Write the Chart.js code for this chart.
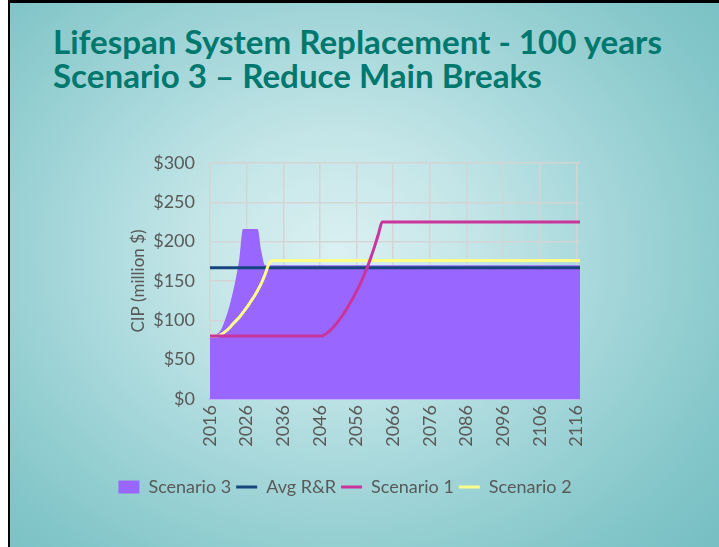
<!DOCTYPE html>
<html>
<head>
<meta charset="utf-8">
<script src="https://cdn.jsdelivr.net/npm/chart.js@4.4.1/dist/chart.umd.min.js"></script>
<style>
  html, body { margin: 0; padding: 0; width: 719px; height: 547px; overflow: hidden; background: #fff; }
  #slide {
    position: absolute; left: 8px; top: 0; width: 711px; height: 547px; box-sizing: border-box;
    border-left: 2px solid #000; border-top: 3px solid #000;
    background: radial-gradient(ellipse 72% 78% at 46% 46%, #dbf0f2 0%, #c3e5e7 28%, #a3d6d9 55%, #85c7ca 82%, #77bfc3 100%);
  }
  h1 {
    position: absolute; left: 53px; top: 24px; margin: 0;
    font-family: Lato, "Open Sans", sans-serif; font-weight: 700; font-size: 30px; line-height: 34px;
    color: #00786e; white-space: nowrap;
  }
  #chartBox { position: absolute; left: 0; top: 0; width: 719px; height: 547px; }
</style>
</head>
<body>
<div id="slide"></div>
<h1 id="title">Lifespan System Replacement - 100 years<br>Scenario 3 – Reduce Main Breaks</h1>
<div id="chartBox"><canvas id="chart" width="719" height="547"></canvas></div>
<script>
// Years on the category axis, one per year; every tenth one is labelled.
const years = [];
for (let y = 2016; y <= 2117; y++) years.push(String(y));

const seriesNames = ['Scenario 3', 'Avg R&R', 'Scenario 1', 'Scenario 2'];

// CIP, million $ per year (2016 … 2117)
const scenario3 = [
  80, 81, 83, 88, 99, 113, 131, 152, 178, 216,
  216, 216, 216, 216, 188, 170, 170, 170, 170, 170,
  170, 170, 170, 170, 170, 170, 170, 170, 170, 170,
  170, 170, 170, 170, 170, 170, 170, 170, 170, 170,
  170, 170, 170, 170, 170, 170, 170, 170, 170, 170,
  170, 170, 170, 170, 170, 170, 170, 170, 170, 170,
  170, 170, 170, 170, 170, 170, 170, 170, 170, 170,
  170, 170, 170, 170, 170, 170, 170, 170, 170, 170,
  170, 170, 170, 170, 170, 170, 170, 170, 170, 170,
  170, 170, 170, 170, 170, 170, 170, 170, 170, 170,
  170, 170
];

const avgRR = [
  167, 167, 167, 167, 167, 167, 167, 167, 167, 167,
  167, 167, 167, 167, 167, 167, 167, 167, 167, 167,
  167, 167, 167, 167, 167, 167, 167, 167, 167, 167,
  167, 167, 167, 167, 167, 167, 167, 167, 167, 167,
  167, 167, 167, 167, 167, 167, 167, 167, 167, 167,
  167, 167, 167, 167, 167, 167, 167, 167, 167, 167,
  167, 167, 167, 167, 167, 167, 167, 167, 167, 167,
  167, 167, 167, 167, 167, 167, 167, 167, 167, 167,
  167, 167, 167, 167, 167, 167, 167, 167, 167, 167,
  167, 167, 167, 167, 167, 167, 167, 167, 167, 167,
  167, 167
];

const scenario1 = [
  80, 80, 80, 80, 80, 80, 80, 80, 80, 80,
  80, 80, 80, 80, 80, 80, 80, 80, 80, 80,
  80, 80, 80, 80, 80, 80, 80, 80, 80, 80,
  80, 81, 84, 88, 93, 99, 105, 112, 120, 128,
  137, 146, 157, 168, 181, 195, 210, 225, 225, 225,
  225, 225, 225, 225, 225, 225, 225, 225, 225, 225,
  225, 225, 225, 225, 225, 225, 225, 225, 225, 225,
  225, 225, 225, 225, 225, 225, 225, 225, 225, 225,
  225, 225, 225, 225, 225, 225, 225, 225, 225, 225,
  225, 225, 225, 225, 225, 225, 225, 225, 225, 225,
  225, 225
];

const scenario2 = [
  80, 80, 80, 82, 85, 89, 94, 99, 104, 110,
  116, 123, 130, 138, 147, 158, 171, 176, 176, 176,
  176, 176, 176, 176, 176, 176, 176, 176, 176, 176,
  176, 176, 176, 176, 176, 176, 176, 176, 176, 176,
  176, 176, 176, 176, 176, 176, 176, 176, 176, 176,
  176, 176, 176, 176, 176, 176, 176, 176, 176, 176,
  176, 176, 176, 176, 176, 176, 176, 176, 176, 176,
  176, 176, 176, 176, 176, 176, 176, 176, 176, 176,
  176, 176, 176, 176, 176, 176, 176, 176, 176, 176,
  176, 176, 176, 176, 176, 176, 176, 176, 176, 176,
  176, 176
];

const yTicks = [0, 50, 100, 150, 200, 250, 300];

// Fit the two-line heading to its slide width.
(function fitTitle() {
  const el = document.getElementById('title');
  const c = document.createElement('canvas').getContext('2d');
  c.font = '700 30px Lato';
  const w = c.measureText('Lifespan System Replacement - 100 years').width;
  const size = 30 * 610 / w;
  el.style.fontSize = size.toFixed(2) + 'px';
})();

const FONT = 'Lato';
const GREY = '#595959';
const GRID = 'rgba(212,212,212,0.95)';

new Chart(document.getElementById('chart'), {
  type: 'line',
  data: {
    labels: years,
    datasets: [
      { label: seriesNames[0], data: scenario3, fill: 'origin', backgroundColor: '#9966ff',
        borderColor: '#9966ff', borderWidth: 0, pointRadius: 0, order: 4, pointStyle: 'rect' },
      { label: seriesNames[1], data: avgRR, fill: false, borderColor: '#17457e', backgroundColor: '#17457e',
        borderWidth: 3, pointRadius: 0, order: 3, pointStyle: 'line' },
      { label: seriesNames[2], data: scenario1, fill: false, borderColor: '#c9359b', backgroundColor: '#c9359b',
        borderWidth: 3, pointRadius: 0, order: 1, pointStyle: 'line' },
      { label: seriesNames[3], data: scenario2, fill: false, borderColor: '#ffff8a', backgroundColor: '#ffff8a',
        borderWidth: 3, pointRadius: 0, order: 2, pointStyle: 'line' }
    ]
  },
  options: {
    responsive: false,
    animation: false,
    events: [],
    cubicInterpolationMode: 'monotone',
    layout: { padding: { left: 110, right: 139, top: 163, bottom: 41 } },
    plugins: {
      tooltip: { enabled: false },
      legend: {
        position: 'bottom',
        labels: {
          usePointStyle: true, pointStyleWidth: 21, boxHeight: 13, padding: 5,
          color: GREY, font: { family: FONT, size: 18 },
          sort: (a, b) => a.datasetIndex - b.datasetIndex
        }
      }
    },
    scales: {
      x: {
        type: 'category',
        offset: false,
        grid: {
          color: (ctx) => (ctx.index % 10 === 0 ? GRID : 'rgba(0,0,0,0)'),
          lineWidth: 1.5, drawTicks: false
        },
        border: { display: true, color: '#c3b0fb', width: 2 },
        ticks: {
          autoSkip: false, minRotation: 90, maxRotation: 90, padding: 6,
          color: GREY, font: { family: FONT, size: 18 },
          callback: (v, i) => (i % 10 === 0 ? years[i] : '')
        },
        afterFit: (s) => { s.height = 74; }
      },
      y: {
        min: 0, max: 300,
        afterBuildTicks: (s) => { s.ticks = yTicks.map((v) => ({ value: v })); },
        grid: { color: GRID, lineWidth: 1.5, drawTicks: false },
        border: { display: false },
        ticks: { padding: 15, color: GREY, font: { family: FONT, size: 18 }, callback: (v) => '$' + v },
        title: { display: true, text: 'CIP (million $)', color: GREY, font: { family: FONT, size: 17 }, padding: { top: 18, bottom: 0 } },
        afterFit: (s) => { s.width = 100; }
      }
    }
  }
});
</script>
</body>
</html>
